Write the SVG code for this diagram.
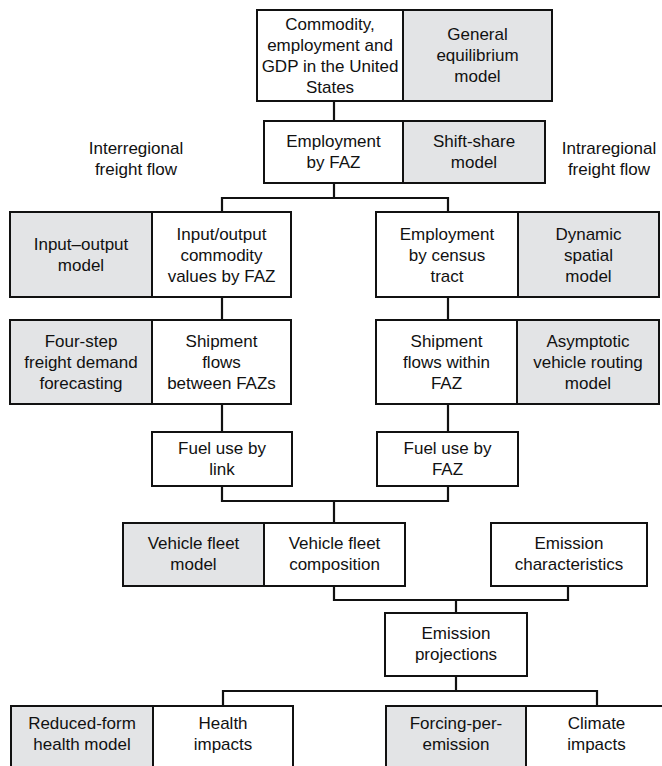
<svg xmlns="http://www.w3.org/2000/svg" width="662" height="766" viewBox="0 0 662 766">
<style>
.b{fill:#fff;stroke:#111;stroke-width:2}
.g{fill:#e3e4e6;stroke:#111;stroke-width:2}
text{font-family:"Liberation Sans",Arial,sans-serif;font-size:17px;fill:#111;text-anchor:middle}
.c{fill:none;stroke:#111;stroke-width:2.2}
</style>
<rect width="662" height="766" fill="#fff"/>
<g id="connectors">
<path class="c" d="M334 101V121M334 183V198M222 212V198H448V212"/>
<path class="c" d="M222 297V320M222 404V432M448 297V320M448 404V432"/>
<path class="c" d="M222 486V501H448V486M334 501V523"/>
<path class="c" d="M334 586V600H568V586M456 600V613"/>
<path class="c" d="M456 676V691M223 706V691H597V706"/>
</g>
<g id="labels">
<text x="136" y="154">Interregional</text><text x="136" y="175">freight flow</text>
<text x="609" y="154">Intraregional</text><text x="609" y="175">freight flow</text>
</g>
<g id="commodity"><rect class="b" x="257" y="10" width="146" height="91"/>
<text x="330" y="30">Commodity,</text><text x="330" y="51">employment and</text><text x="330" y="72">GDP in the United</text><text x="330" y="93">States</text></g>
<g id="general-equilibrium"><rect class="g" x="403" y="10" width="149" height="91"/>
<text x="477.5" y="40">General</text><text x="477.5" y="61">equilibrium</text><text x="477.5" y="82">model</text></g>
<g id="employment-faz"><rect class="b" x="264" y="121" width="139" height="62"/>
<text x="333.5" y="147">Employment</text><text x="333.5" y="168">by FAZ</text></g>
<g id="shift-share"><rect class="g" x="403" y="121" width="142" height="62"/>
<text x="474" y="147">Shift-share</text><text x="474" y="168">model</text></g>
<g id="input-output-model"><rect class="g" x="10" y="212" width="142" height="85"/>
<text x="81" y="250">Input–output</text><text x="81" y="271">model</text></g>
<g id="io-values"><rect class="b" x="152" y="212" width="139" height="85"/>
<text x="221.5" y="239.5">Input/output</text><text x="221.5" y="260.5">commodity</text><text x="221.5" y="281.5">values by FAZ</text></g>
<g id="four-step"><rect class="g" x="10" y="320" width="142" height="84"/>
<text x="81" y="347">Four-step</text><text x="81" y="368">freight demand</text><text x="81" y="389">forecasting</text></g>
<g id="shipment-between"><rect class="b" x="152" y="320" width="139" height="84"/>
<text x="221.5" y="347">Shipment</text><text x="221.5" y="368">flows</text><text x="221.5" y="389">between FAZs</text></g>
<g id="fuel-link"><rect class="b" x="152" y="432" width="140" height="54"/>
<text x="222" y="454">Fuel use by</text><text x="222" y="475">link</text></g>
<g id="employment-tract"><rect class="b" x="376" y="212" width="142" height="85"/>
<text x="447" y="239.5">Employment</text><text x="447" y="260.5">by census</text><text x="447" y="281.5">tract</text></g>
<g id="dynamic-spatial"><rect class="g" x="518" y="212" width="141" height="85"/>
<text x="588.5" y="239.5">Dynamic</text><text x="588.5" y="260.5">spatial</text><text x="588.5" y="281.5">model</text></g>
<g id="shipment-within"><rect class="b" x="376" y="320" width="141" height="84"/>
<text x="446.5" y="347">Shipment</text><text x="446.5" y="368">flows within</text><text x="446.5" y="389">FAZ</text></g>
<g id="vehicle-routing"><rect class="g" x="517" y="320" width="142" height="84"/>
<text x="588" y="347">Asymptotic</text><text x="588" y="368">vehicle routing</text><text x="588" y="389">model</text></g>
<g id="fuel-faz"><rect class="b" x="377" y="432" width="141" height="54"/>
<text x="447.5" y="454">Fuel use by</text><text x="447.5" y="475">FAZ</text></g>
<g id="vehicle-fleet-model"><rect class="g" x="123" y="523" width="141" height="63"/>
<text x="193.5" y="549">Vehicle fleet</text><text x="193.5" y="570">model</text></g>
<g id="vehicle-fleet-composition"><rect class="b" x="264" y="523" width="141" height="63"/>
<text x="334.5" y="549">Vehicle fleet</text><text x="334.5" y="570">composition</text></g>
<g id="emission-characteristics"><rect class="b" x="491" y="523" width="156" height="63"/>
<text x="569" y="549">Emission</text><text x="569" y="570">characteristics</text></g>
<g id="emission-projections"><rect class="b" x="385" y="613" width="142" height="63"/>
<text x="456" y="639">Emission</text><text x="456" y="660">projections</text></g>
<g id="reduced-form"><rect class="g" x="11" y="706" width="142" height="70"/>
<text x="82" y="729">Reduced-form</text><text x="82" y="750">health model</text></g>
<g id="health-impacts"><rect class="b" x="153" y="706" width="140" height="70"/>
<text x="223" y="729">Health</text><text x="223" y="750">impacts</text></g>
<g id="forcing"><rect class="g" x="386" y="706" width="140" height="70"/>
<text x="456" y="729">Forcing-per-</text><text x="456" y="750">emission</text></g>
<g id="climate-impacts"><rect class="b" x="526" y="706" width="141" height="70"/>
<text x="596.5" y="729">Climate</text><text x="596.5" y="750">impacts</text></g>
</svg>
